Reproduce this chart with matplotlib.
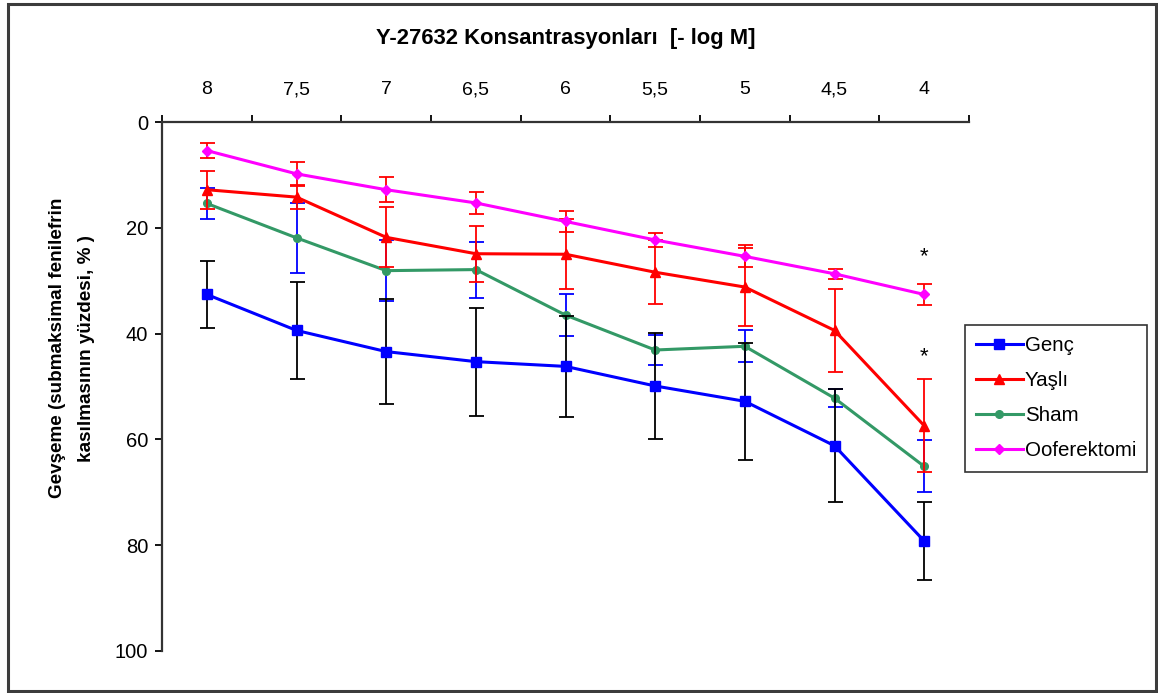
import matplotlib
matplotlib.use("Agg")
import matplotlib.pyplot as plt
from matplotlib.patches import Rectangle
import numpy as np

plt.rcParams['font.family'] = ['Liberation Sans', 'DejaVu Sans']

categories = ["8", "7,5", "7", "6,5", "6", "5,5", "5", "4,5", "4"]

genc = [32.6, 39.4, 43.4, 45.3, 46.2, 49.9, 52.8, 61.2, 79.2]
genc_err = [6.3, 9.2, 10.0, 10.2, 9.6, 10.0, 11.1, 10.7, 7.3]

yasli = [12.8, 14.2, 21.8, 24.9, 25.0, 28.4, 31.2, 39.4, 57.4]
yasli_err = [3.6, 2.3, 5.7, 5.3, 6.6, 6.0, 7.3, 7.9, 8.8]

sham = [15.4, 21.9, 28.1, 27.9, 36.5, 43.1, 42.4, 52.2, 65.1]
sham_err = [3.0, 6.6, 5.8, 5.3, 4.0, 2.8, 3.0, 1.7, 4.9]

oofer = [5.4, 9.8, 12.8, 15.3, 18.8, 22.3, 25.4, 28.7, 32.6]
oofer_err = [1.4, 2.3, 2.4, 2.0, 1.9, 1.4, 2.1, 1.0, 1.9]

asterisk_y = [25.4, 44.3]

fig = plt.figure(figsize=(11.58, 6.93), dpi=100)
fig.patches.append(Rectangle((8/1158, 2/693), 1148/1158, 687/693, transform=fig.transFigure,
                             fill=False, edgecolor='#3c3c3c', linewidth=2.2, zorder=10))

ax = fig.add_axes([162/1158, 1 - 651/693, (969 - 162)/1158, (651 - 122)/693])
x = np.arange(len(categories))

cap = 5.4
lw = 2.2
ew = 1.3
ax.errorbar(x, sham, yerr=sham_err, fmt='none', ecolor='#0000ff', elinewidth=ew,
            capsize=cap, capthick=ew, zorder=2)
ax.plot(x, sham, color='#339966', lw=lw, marker='o', ms=5.5, zorder=3, label='Sham')
ax.errorbar(x, genc, yerr=genc_err, fmt='none', ecolor='black', elinewidth=ew,
            capsize=cap, capthick=ew, zorder=4)
ax.plot(x, genc, color='#0000ff', lw=lw, marker='s', ms=7, zorder=5, label='Genç')
ax.errorbar(x, yasli, yerr=yasli_err, fmt='none', ecolor='#ff0000', elinewidth=ew,
            capsize=cap, capthick=ew, zorder=6)
ax.plot(x, yasli, color='#ff0000', lw=lw, marker='^', ms=7, zorder=7, label='Yaşlı')
ax.errorbar(x, oofer, yerr=oofer_err, fmt='none', ecolor='#ff0000', elinewidth=ew,
            capsize=cap, capthick=ew, zorder=6)
ax.plot(x, oofer, color='#ff00ff', lw=lw, marker='D', ms=5.5, zorder=7, label='Ooferektomi')

for ay in asterisk_y:
    ax.text(x[-1], ay, '*', ha='center', va='center', fontsize=16, color='black')

ax.set_xlim(-0.5, len(categories) - 0.5)
ax.set_ylim(100, 0)
ax.set_yticks([0, 20, 40, 60, 80, 100])
ax.xaxis.tick_top()
ax.xaxis.set_label_position('top')
ax.set_xticks(np.arange(-0.5, len(categories) + 0.5, 1.0))
ax.set_xticklabels([])
ax.set_xticks(x, minor=True)
ax.set_xticklabels(categories, minor=True, fontsize=14)
ax.tick_params(axis='x', which='minor', length=0, pad=17)
ax.tick_params(axis='x', which='major', length=5, width=1.3, direction='out')
ax.tick_params(axis='y', length=5, width=1.3, direction='out', labelsize=14.5, pad=5)

for s in ['right', 'bottom']:
    ax.spines[s].set_visible(False)
for s in ['left', 'top']:
    ax.spines[s].set_linewidth(1.6)
    ax.spines[s].set_color('#333333')

ax.set_xlabel('Y-27632 Konsantrasyonları  [- log M]', fontsize=15.8, fontweight='bold', labelpad=27)
ax.set_ylabel('Gevşeme (submaksimal fenilefrin\nkasılmasının yüzdesi, % )', fontsize=13.6,
              fontweight='bold', linespacing=1.9)
ax.yaxis.set_label_coords((95 - 162) / 807, (651 - 348) / 529)

h, l = ax.get_legend_handles_labels()
order = [l.index(n) for n in ['Genç', 'Yaşlı', 'Sham', 'Ooferektomi']]
leg = fig.legend([h[i] for i in order], [l[i] for i in order], loc='upper left',
                 bbox_to_anchor=(965/1158, 1 - 325/693), frameon=True, fancybox=False,
                 edgecolor='black', fontsize=14.8, handlelength=2.25, handletextpad=0.1,
                 borderpad=0.55, labelspacing=0.78, borderaxespad=0)
leg.get_frame().set_linewidth(1.2)

fig.savefig('out.png', dpi=100)
